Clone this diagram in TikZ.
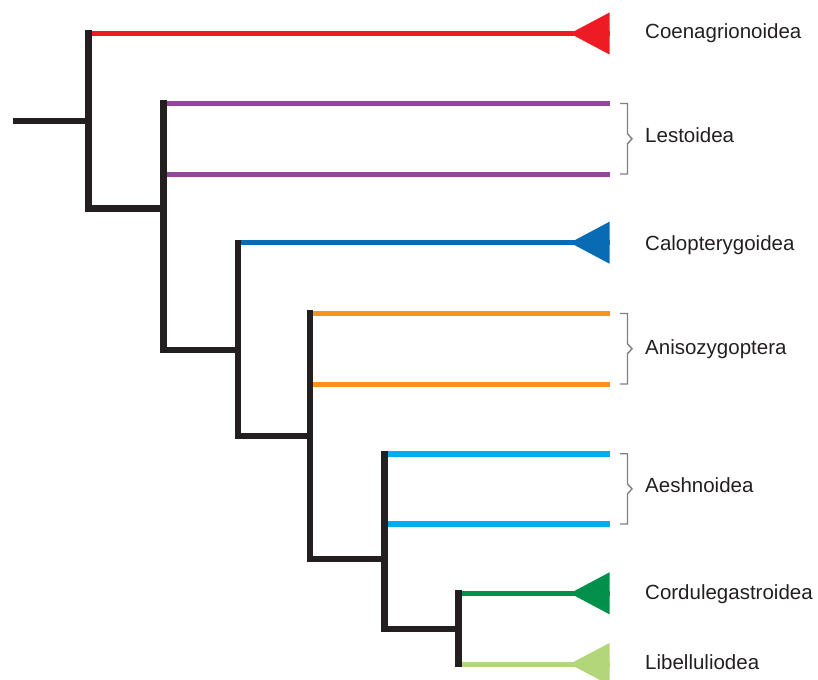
\documentclass[tikz,border=0pt]{standalone}
\usepackage{fontspec}
\setmainfont{Liberation Sans}
\usetikzlibrary{calc}
\definecolor{cRed}{HTML}{ED1C24}
\definecolor{cPurple}{HTML}{92479B}
\definecolor{cBlue}{HTML}{0A6BB5}
\definecolor{cOrange}{HTML}{F7941D}
\definecolor{cLBlue}{HTML}{00AEEF}
\definecolor{cDGreen}{HTML}{00904A}
\definecolor{cLGreen}{HTML}{B3D67A}
\definecolor{cBlack}{HTML}{231F20}
\definecolor{cGrey}{HTML}{808080}
\tikzset{
  blk/.style={line width=6.3pt, draw=cBlack, line cap=rect, line join=miter},
  rootline/.style={line width=6pt, draw=cBlack, line cap=butt},
  twig/.style={line width=5pt, line cap=butt},
  brk/.style={line width=1.4pt, draw=cGrey, line join=miter},
  lab/.style={anchor=base west, inner sep=0pt, text=cBlack, font=\fontsize{20.5pt}{24pt}\selectfont},
}
\begin{document}
\begin{tikzpicture}[x=1pt, y=-1pt]
\useasboundingbox (0,0) rectangle (818,679);
% internal vertices
\coordinate (r) at (12.5,121.5);
\coordinate (n1) at (88.5,121.5);
\coordinate (a1) at (88.5,33.5);   \coordinate (b1) at (88.5,208.5);
\coordinate (a2) at (163.5,103.5); \coordinate (b2) at (163.5,350);
\coordinate (a3) at (238,242.7);   \coordinate (b3) at (238,435.7);
\coordinate (a4) at (310,313.5);   \coordinate (b4) at (310,558.7);
\coordinate (a5) at (384.5,453.7); \coordinate (b5) at (384.5,629);
\coordinate (a6) at (458.5,593.3); \coordinate (b6) at (458.5,664);
% tips
\coordinate (t1) at (609.5,33.5);
\coordinate (t2) at (609.5,103.5);
\coordinate (t3) at (609.5,174);
\coordinate (t4) at (609.5,242.7);
\coordinate (t5) at (609.5,313.5);
\coordinate (t6) at (609.5,384);
\coordinate (t7) at (609.5,453.7);
\coordinate (t8) at (609.5,524);
\coordinate (t9) at (609.5,593.3);
\coordinate (t10) at (609.5,664);
% coloured branches
\draw[twig, cRed] (a1) -- (t1);
\fill[cRed] (t1) ++(-39.5,0) -- ++(39.5,-21) -- ++(0,42) -- cycle;
\draw[twig, cPurple] (a2) -- (t2);
\draw[twig, cPurple] (a2 |- t3) -- (t3);
\draw[twig, cBlue] (a3) -- (t4);
\fill[cBlue] (t4) ++(-39.5,0) -- ++(39.5,-21) -- ++(0,42) -- cycle;
\draw[twig, cOrange] (a4) -- (t5);
\draw[twig, cOrange] (a4 |- t6) -- (t6);
\draw[twig, cLBlue, line width=6pt] (a5) -- (t7);
\draw[twig, cLBlue, line width=6pt] (a5 |- t8) -- (t8);
\draw[twig, cDGreen, line width=5.5pt] (a6) -- (t9);
\fill[cDGreen] (t9) ++(-39.5,0) -- ++(39.5,-21) -- ++(0,42) -- cycle;
\draw[twig, cLGreen] (b6) -- (t10);
\fill[cLGreen] (t10) ++(-40,0) -- ++(40,-21) -- ++(0,42) -- cycle;
% black backbone
\draw[rootline] (r) -- (n1);
\draw[blk] (a1) -- (b1) -- (a2 |- b1);
\draw[blk] (a2) -- (b2) -- (a3 |- b2);
\draw[blk] (a3) -- (b3) -- (a4 |- b3);
\draw[blk] (a4) -- (b4) -- (a5 |- b4);
\draw[blk] (a5) -- (b5) -- (a6 |- b5);
\draw[blk] (a6) -- (b6);
% brackets
\draw[brk] ($(t2)+(10.5,0)$) -- ++(7.5,0) -- ($($(t2)!0.5!(t3)$)+(18,-5)$) -- ++(4.5,5) -- ++(-4.5,5) -- ($(t3)+(18,0)$) -- ++(-7.5,0);
\draw[brk] ($(t5)+(10.5,0)$) -- ++(7.5,0) -- ($($(t5)!0.5!(t6)$)+(18,-5)$) -- ++(4.5,5) -- ++(-4.5,5) -- ($(t6)+(18,0)$) -- ++(-7.5,0);
\draw[brk] ($(t7)+(10.5,0)$) -- ++(7.5,0) -- ($($(t7)!0.5!(t8)$)+(18,-5)$) -- ++(4.5,5) -- ++(-4.5,5) -- ($(t8)+(18,0)$) -- ++(-7.5,0);
% labels
\node[lab] (L1) at (645,38.3) {Coenagrionoidea};
\node[lab] (L2) at (645,142.7) {Lestoidea};
\node[lab] (L3) at (645,250) {Calopterygoidea};
\node[lab] (L4) at (645,354) {Anisozygoptera};
\node[lab] (L5) at (645,492.7) {Aeshnoidea};
\node[lab] (L6) at (645,599.3) {Cordulegastroidea};
\node[lab] (L7) at (645,669.3) {Libelluliodea};
\end{tikzpicture}
\end{document}
